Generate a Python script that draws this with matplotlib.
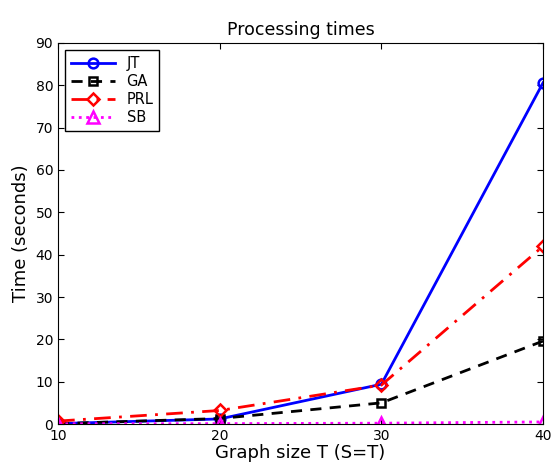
import matplotlib
matplotlib.use("Agg")
import matplotlib.pyplot as plt

sizes = [10, 20, 30, 40]
jt = [0.1, 1.2, 9.4, 80.6]
ga = [0.1, 1.3, 5.0, 19.6]
prl = [0.7, 3.2, 9.2, 42.0]
sb = [0.05, 0.1, 0.2, 0.5]
yticks = [0, 10, 20, 30, 40, 50, 60, 70, 80, 90]

fig = plt.figure(figsize=(5.53, 4.67), dpi=100)
ax = fig.add_axes([0.105, 0.092, 0.877, 0.816])

ax.plot(sizes, jt, '-', color='blue', lw=2, marker='o', ms=7, mfc='none', mew=1.8, label='JT')
ax.plot(sizes, ga, '--', color='black', lw=2, marker='s', ms=5.5, mfc='none', mew=1.8, label='GA', dashes=(4, 3))
ax.plot(sizes, prl, '-.', color='red', lw=2, marker='D', ms=6, mfc='none', mew=1.8, label='PRL', dashes=(6, 3, 1, 3))
ax.plot(sizes, sb, ':', color='magenta', lw=2, marker='^', ms=8, mfc='none', mew=1.8, label='SB')

ax.set_xlim(10, 40)
ax.set_ylim(0, 90)
ax.set_xticks(sizes)
ax.set_yticks(yticks)
ax.tick_params(direction='in', labelsize=10, length=4, top=True, right=True)
ax.set_title('Processing times', fontsize=12.5)
ax.set_xlabel('Graph size T (S=T)', fontsize=13, labelpad=1)
ax.set_ylabel('Time (seconds)', fontsize=13)
leg = ax.legend(loc='upper left', fontsize=10.5, fancybox=False, edgecolor='black', framealpha=1,
                handlelength=3, borderpad=0.4, labelspacing=0.2)
leg.get_frame().set_linewidth(1.0)
fig.savefig('out.png', dpi=100)
